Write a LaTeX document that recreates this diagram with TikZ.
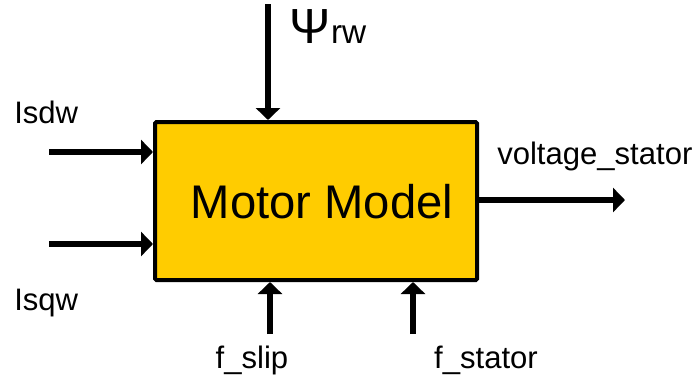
\documentclass[tikz,border=0pt]{standalone}
\usepackage{fontspec}
\setmainfont{Liberation Sans}
\usetikzlibrary{arrows.meta}
\begin{document}
\begin{tikzpicture}[x=0.75pt,y=-0.75pt,
  blockbox/.style={draw=black, line width=3pt, fill=yellowbox, rounded corners=1pt,
    minimum width=241.5pt, minimum height=118.5pt, inner sep=0pt},
  titletext/.style={anchor=base, inner sep=0pt, font=\fontsize{35.4}{40}\selectfont},
  sig/.style={line width=3.8pt, -{Triangle[length=9pt,width=18pt]}},
  lbl/.style={anchor=base west, inner sep=0pt, font=\fontsize{23.3}{28}\selectfont}]
\definecolor{yellowbox}{RGB}{255,204,0}
\useasboundingbox (0,0) rectangle (700,379);
\node[blockbox] (box) at (316,201) {};
\node[titletext] (title) at (322,218) {Motor Model};
\coordinate (isd) at (49,152);
\coordinate (isq) at (49,244);
\coordinate (psi) at (268,4);
\coordinate (vout) at (625,200);
\coordinate (fslip) at (270,334);
\coordinate (fstat) at (413,334);
\draw[sig] (isd) -- (isd -| box.west);
\draw[sig] (isq) -- (isq -| box.west);
\draw[sig] (psi) -- (psi |- box.north);
\draw[sig] (box.east |- vout) -- (vout);
\draw[sig] (fslip) -- (fslip |- box.south);
\draw[sig] (fstat) -- (fstat |- box.south);
\node[lbl] (lisd) at (14,123) {Isdw};
\node[lbl] (lisq) at (14,310) {Isqw};
\node[lbl] (lv) at (497,164) {voltage\_stator};
\node[lbl, anchor=base] (lfs) at (252,368) {f\_slip};
\node[lbl, anchor=base] (lft) at (486,368) {f\_stator};
\node[anchor=base west, inner sep=0pt, font=\fontsize{37}{40}\selectfont] (lpsi) at (289,43) {Ψ};
\node[anchor=base west, inner sep=0pt, font=\fontsize{25}{30}\selectfont] (lrw) at (lpsi.base east) {rw};
\end{tikzpicture}
\end{document}
